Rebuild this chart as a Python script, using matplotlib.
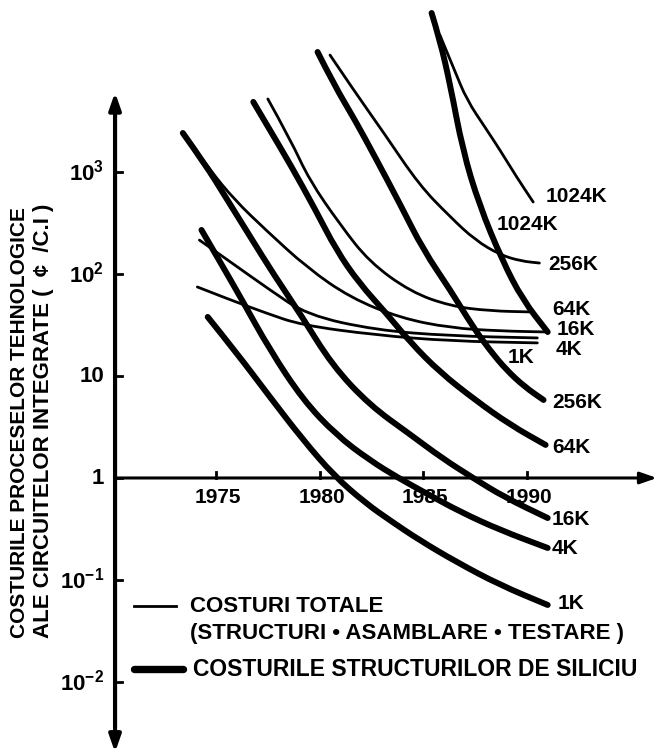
import matplotlib
matplotlib.use("Agg")

import matplotlib.pyplot as plt  # noqa: E402
from matplotlib.path import Path  # noqa: E402
from matplotlib.patches import PathPatch, FancyArrowPatch  # noqa: E402

plt.rcParams["font.family"] = ["Liberation Sans", "DejaVu Sans"]
plt.rcParams["mathtext.fontset"] = "custom"
plt.rcParams["mathtext.rm"] = "Liberation Sans"
plt.rcParams["mathtext.bf"] = "Liberation Sans:bold"

# ─── Data: cost per integrated circuit vs. year ──────────────────────────────
# thick lines = silicon structure cost, thin lines = total cost

thick_1k_year = [1974.6, 1976.0, 1977.6, 1979.2, 1980.7, 1982.2, 1983.5, 1984.8, 1986.6, 1988.7, 1991.0]
thick_1k_cost = [37.9, 16.8, 6.22, 2.36, 1.05, 0.569, 0.371, 0.247, 0.150, 0.0893, 0.0569]

thick_4k_year = [1974.3, 1975.2, 1976.2, 1977.6, 1979.2, 1980.8, 1982.4, 1983.8, 1985.2, 1986.8, 1988.7, 1991.0]
thick_4k_cost = [270, 131, 58.2, 18.0, 5.82, 2.64, 1.50, 1.0, 0.697, 0.464, 0.309, 0.206]

thick_16k_year = [1973.4, 1974.5, 1975.4, 1976.6, 1977.8, 1979.1, 1980.6, 1982.4, 1984.4, 1985.9, 1987.4, 1988.9, 1991.0]
thick_16k_cost = [2410, 1170, 595, 241, 97.8, 39.6, 12.8, 5.20, 2.64, 1.57, 1.0, 0.651, 0.405]

thick_64k_year = [1976.8, 1977.6, 1978.6, 1979.8, 1980.8, 1981.9, 1983.2, 1984.4, 1985.8, 1987.5, 1989.2, 1990.9]
thick_64k_cost = [4860, 2580, 1170, 424, 172, 81.6, 41.5, 21.1, 10.9, 5.82, 3.31, 2.11]

thick_256k_year = [1979.9, 1980.7, 1981.7, 1982.7, 1983.9, 1985.0, 1986.3, 1987.4, 1988.2, 1989.0, 1989.9, 1990.8]
thick_256k_cost = [15000, 7130, 3240, 1370, 475, 172, 69.7, 30.2, 18.0, 11.5, 7.80, 5.82]

thick_1024k_year = [1985.4, 1985.8, 1986.3, 1986.9, 1987.7, 1988.8, 1989.8, 1991.0]
thick_1024k_cost = [36200, 19700, 7130, 1640, 475, 137, 55.6, 27.0]

thin_1k_year = [1974.1, 1975.7, 1977.4, 1979.1, 1982.7, 1986.3, 1990.5]
thin_1k_cost = [74.6, 55.6, 41.5, 31.6, 25.2, 22.0, 21.1]

thin_4k_year = [1974.2, 1975.7, 1977.6, 1979.4, 1982.7, 1986.3, 1990.5]
thin_4k_cost = [215, 131, 69.7, 39.6, 28.2, 24.7, 23.6]

thin_16k_year = [1973.4, 1974.7, 1975.9, 1977.4, 1979.4, 1981.5, 1983.9, 1986.3, 1988.7, 1991.0]
thin_16k_cost = [2410, 1050, 531, 270, 115, 58.2, 37.0, 29.6, 27.6, 27.0]

thin_64k_year = [1977.5, 1978.6, 1979.5, 1981.0, 1982.4, 1984.4, 1986.3, 1988.2, 1990.3]
thin_64k_cost = [5200, 2060, 835, 302, 131, 66.6, 48.5, 43.4, 42.4]

thin_256k_year = [1980.5, 1981.7, 1983.1, 1984.8, 1986.3, 1987.5, 1988.7, 1989.7, 1990.6]
thin_256k_cost = [14000, 6090, 2410, 746, 362, 215, 154, 134, 128]

thin_1024k_year = [1985.8, 1986.5, 1987.1, 1988.0, 1988.7, 1989.5, 1990.3]
thin_1024k_cost = [22000, 10000, 5080, 2700, 1640, 893, 508]

year_ticks = [1975, 1980, 1985, 1990]
cost_ticks = [1e-2, 1e-1, 1, 10, 1e2, 1e3]
cost_tick_labels = [r"$\mathbf{10^{-2}}$", r"$\mathbf{10^{-1}}$", "1", "10",
                    r"$\mathbf{10^{2}}$", r"$\mathbf{10^{3}}$"]

ylabel_lines = ["COSTURILE PROCESELOR TEHNOLOGICE",
                "ALE CIRCUITELOR INTEGRATE (  ¢  /C.I )"]
legend_thin = ["COSTURI TOTALE", "(STRUCTURI • ASAMBLARE • TESTARE )"]
legend_thick = "COSTURILE STRUCTURILOR DE SILICIU"

# ─── Figure setup ────────────────────────────────────────────────────────────

W, H = 659, 754
fig = plt.figure(figsize=(W / 100, H / 100), dpi=100)
ax = fig.add_axes([0, 0, 1, 1])
ax.set_yscale("log")
ax.set_xlim(1964.58, 1996.37)
ax.set_ylim(10 ** -2.706, 10 ** 4.686)
ax.axis("off")

AXIS_YEAR = 1970.13
FONT = dict(fontweight="bold", color="black")


def px(x, y):
    """Pixel position -> axes fraction (origin top-left)."""
    return x / W, 1 - y / H


def smooth_curve(years, costs, lw):
    """Quadratic Bezier through the midpoints of the given points."""
    pts = list(zip(years, costs))
    verts = [pts[0]]
    codes = [Path.MOVETO]
    for i in range(1, len(pts) - 1):
        x0, y0 = pts[i]
        x1, y1 = pts[i + 1]
        mid = ((x0 + x1) / 2, (y0 * y1) ** 0.5)
        verts += [pts[i], mid]
        codes += [Path.CURVE3, Path.CURVE3]
    verts.append(pts[-1])
    codes.append(Path.LINETO)
    patch = PathPatch(Path(verts, codes), fill=False, lw=lw, color="black",
                      capstyle="round", joinstyle="round",
                      transform=ax.transData)
    ax.add_patch(patch)


# ─── Axes with arrows ────────────────────────────────────────────────────────

ax.add_patch(FancyArrowPatch((AXIS_YEAR, 10 ** -2.69), (AXIS_YEAR, 10 ** 3.78),
                             arrowstyle="<|-|>,head_length=10,head_width=3.5",
                             lw=3, color="black", shrinkA=0, shrinkB=0,
                             mutation_scale=1))
ax.add_patch(FancyArrowPatch((AXIS_YEAR, 1), (1996.27, 1),
                             arrowstyle="-|>,head_length=10,head_width=3.5",
                             lw=2.2, color="black", shrinkA=0, shrinkB=0,
                             mutation_scale=1))

for c, lab in zip(cost_ticks, cost_tick_labels):
    ax.plot([AXIS_YEAR, AXIS_YEAR + 0.35], [c, c], color="black", lw=2)
    ax.annotate(lab, xy=(AXIS_YEAR, c), xytext=(-11, -1),
                textcoords="offset pixels", ha="right", va="center",
                fontsize=16, **FONT)

for yr in year_ticks:
    ax.plot([yr, yr], [1, 10 ** (6 / 102)], color="black", lw=2)
    ax.annotate(str(yr), xy=(yr, 1), xytext=(2, -20),
                textcoords="offset pixels", ha="center", va="center",
                fontsize=15, **FONT)

# ─── Curves ──────────────────────────────────────────────────────────────────

THICK, THIN = 4.3, 2.0
thick = [(thick_1k_year, thick_1k_cost, "1K", (10, 1)),
         (thick_4k_year, thick_4k_cost, "4K", (4, -1)),
         (thick_16k_year, thick_16k_cost, "16K", (4, -1)),
         (thick_64k_year, thick_64k_cost, "64K", (7, -3)),
         (thick_256k_year, thick_256k_cost, "256K", (9, -3)),
         (thick_1024k_year, thick_1024k_cost, None, None)]
thin = [(thin_1k_year, thin_1k_cost, "1K", (-30, -15)),
        (thin_4k_year, thin_4k_cost, "4K", (18, -12)),
        (thin_16k_year, thin_16k_cost, "16K", (9, 2)),
        (thin_64k_year, thin_64k_cost, "64K", (19, 2)),
        (thin_256k_year, thin_256k_cost, "256K", (9, -1)),
        (thin_1024k_year, thin_1024k_cost, "1024K", (12, 5))]

for lw, group in ((THICK, thick), (THIN, thin)):
    for years, costs, name, off in group:
        smooth_curve(years, costs, lw)
        if name:
            ax.annotate(name, xy=(years[-1], costs[-1]), xytext=off,
                        textcoords="offset pixels", ha="left", va="center",
                        fontsize=15, **FONT)

# the 1024K silicon curve is labelled beside its middle
ax.annotate("1024K", xy=(thick_1024k_year[4], thick_1024k_cost[4]),
            xytext=(17, -20), textcoords="offset pixels",
            ha="left", va="center", fontsize=15, **FONT)

# ─── Axis title and legend ───────────────────────────────────────────────────

for xpix, size, line in zip((20, 44), (15, 16), ylabel_lines):
    ax.text(*px(xpix, 638), line, transform=ax.transAxes, rotation=90,
            ha="center", va="bottom", fontsize=size, **FONT)

ax.plot([px(134, 0)[0], px(176, 0)[0]], [px(0, 606)[1]] * 2,
        transform=ax.transAxes, color="black", lw=THIN)
ax.plot([px(134, 0)[0], px(183, 0)[0]], [px(0, 669)[1]] * 2,
        transform=ax.transAxes, color="black", lw=THICK + 1,
        solid_capstyle="round")
ax.text(*px(190, 606), legend_thin[0], transform=ax.transAxes,
        ha="left", va="center", fontsize=16, **FONT)
ax.text(*px(190, 633), legend_thin[1], transform=ax.transAxes,
        ha="left", va="center", fontsize=16, **FONT)
ax.text(*px(193, 669), legend_thick, transform=ax.transAxes,
        ha="left", va="center", fontsize=16.5, **FONT)

fig.savefig("out.png", dpi=100)
